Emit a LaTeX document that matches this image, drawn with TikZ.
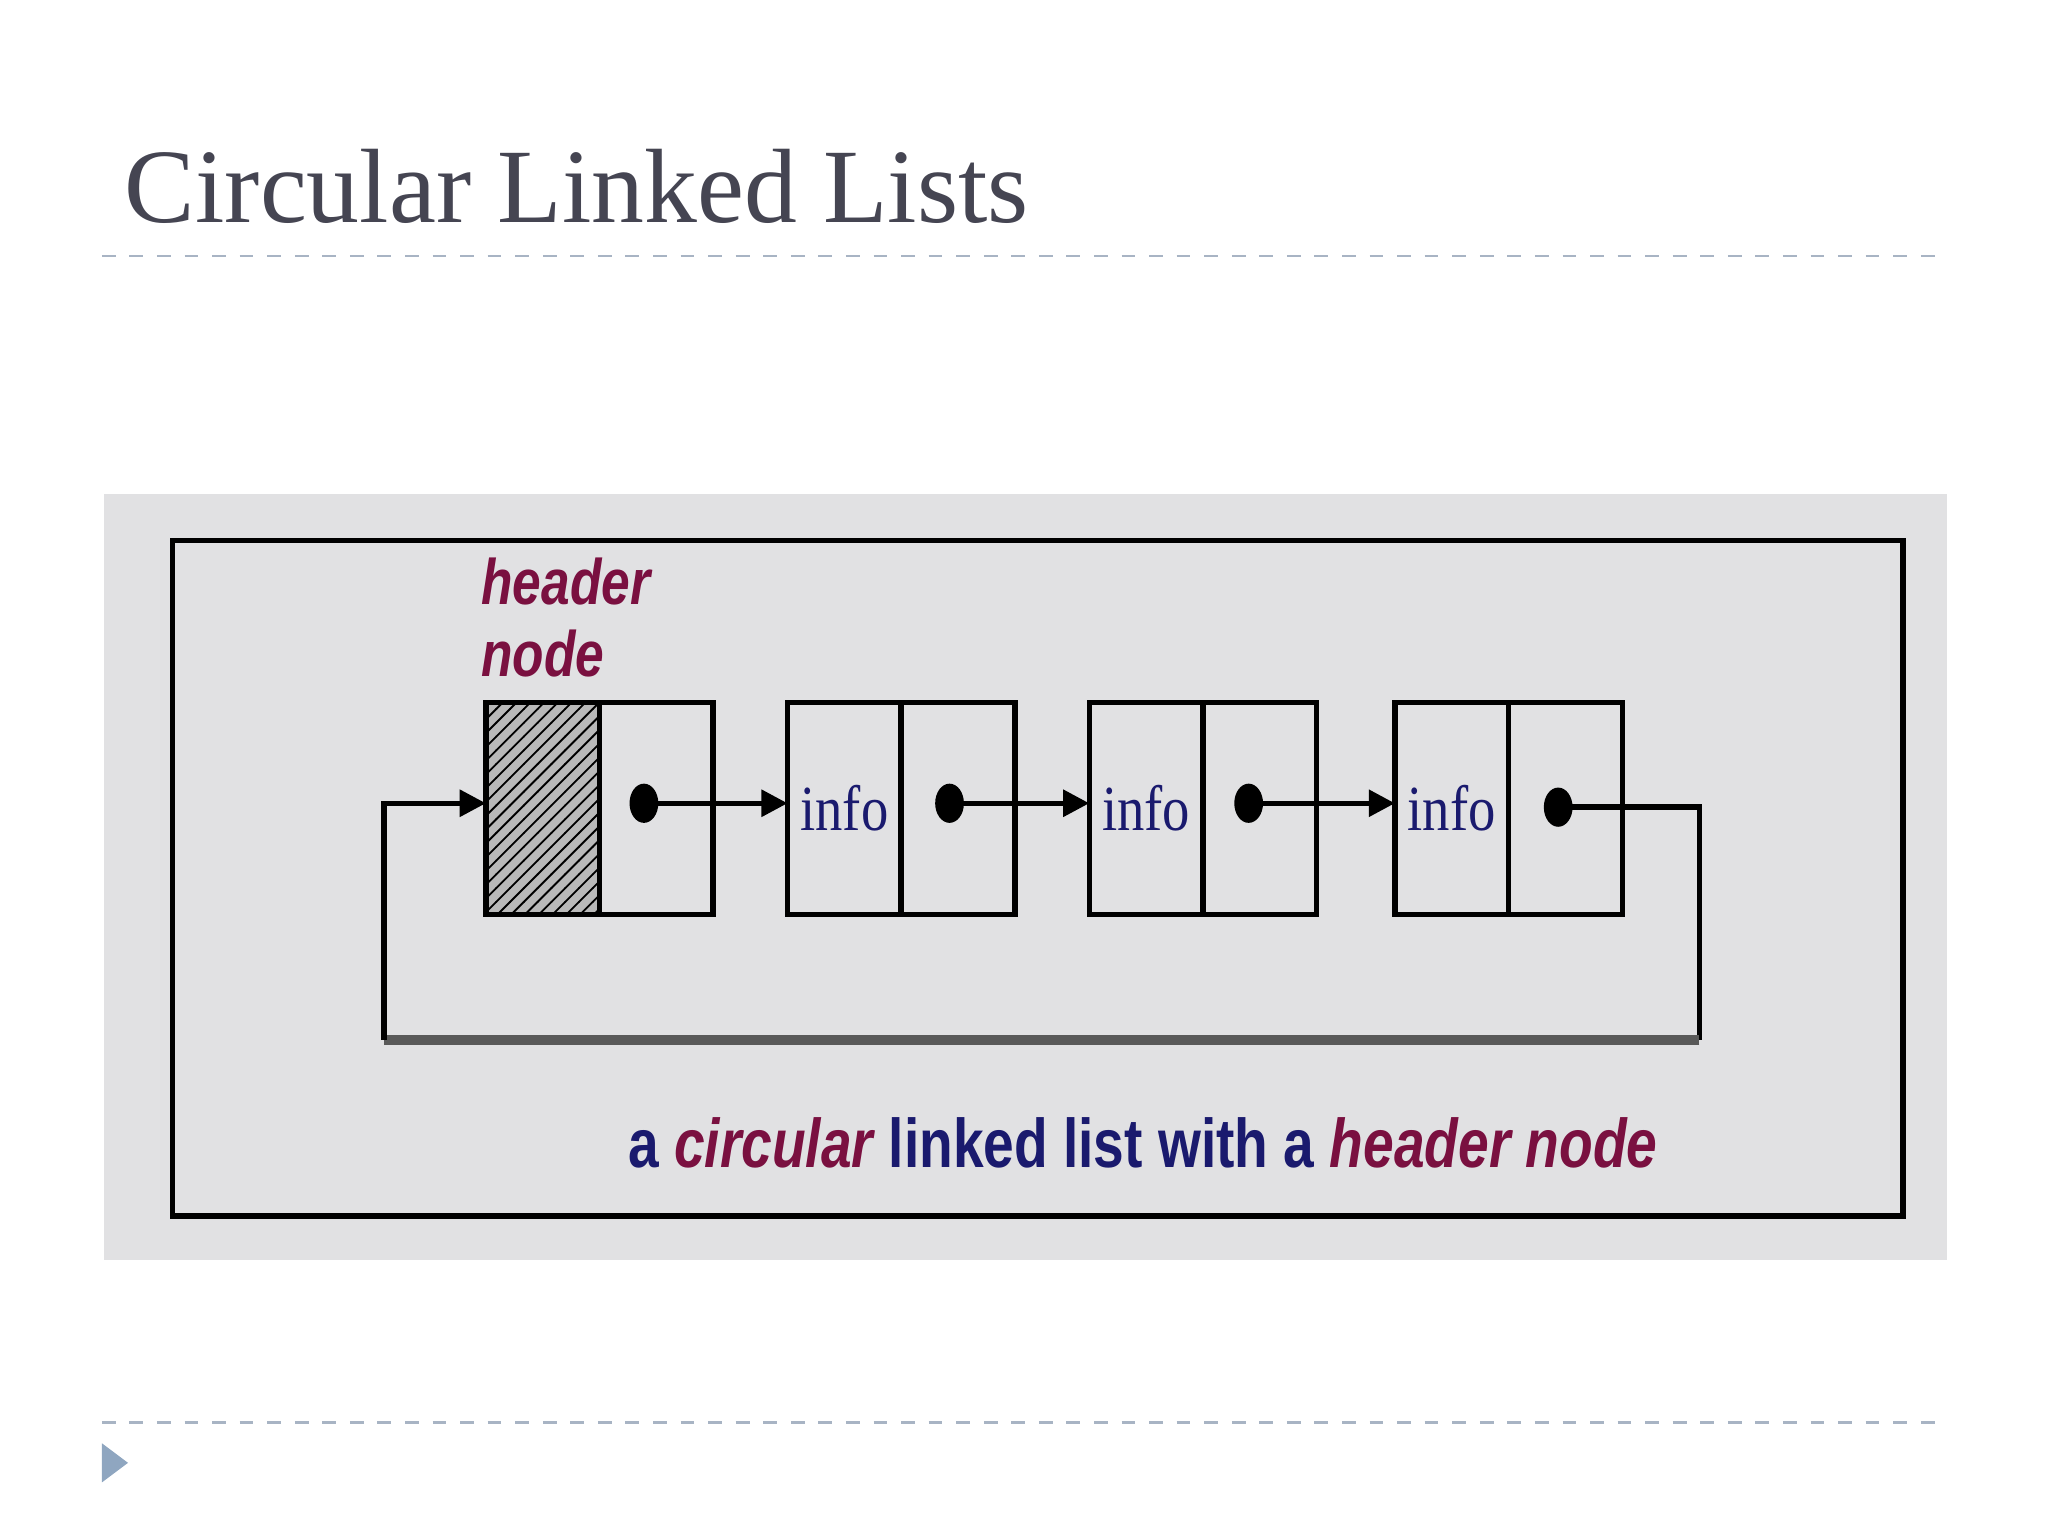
\documentclass[tikz,border=0pt]{standalone}
\usepackage{fontspec}
\setmainfont{Liberation Serif}
\newfontfamily\capsans{Liberation Sans}
\usetikzlibrary{patterns,arrows.meta,shapes.geometric}
\definecolor{slidegray}{HTML}{E1E1E3}
\definecolor{titlec}{HTML}{454552}
\definecolor{dashc}{HTML}{A8B4C4}
\definecolor{tric}{HTML}{8FA6C0}
\definecolor{hred}{HTML}{7A1040}
\definecolor{navy}{HTML}{1A1A6E}
\begin{document}
\begin{tikzpicture}[x=0.01cm,y=-0.01cm,
  cell/.style={draw,line width=1.2pt,minimum width=0.87cm,minimum height=1.62cm,inner sep=0pt,outer sep=0pt},
  dot/.style={fill,ellipse,minimum width=0.22cm,minimum height=0.3cm,inner sep=0pt},
  lnk/.style={line width=1.2pt,-{Triangle[length=0.2cm,width=0.2cm]}},
  info/.style={text=navy,font=\fontsize{14}{14}\selectfont,inner sep=0,xscale=0.85},
  hdr/.style={anchor=west,text=hred,font=\capsans\bfseries\itshape\fontsize{14}{14}\selectfont,inner sep=0,xscale=0.8}]
\useasboundingbox (0,0) rectangle (1568,1176);
\node[anchor=base west,text=titlec,font=\fontsize{23}{23}\selectfont,inner sep=0] (title) at (95,170) {Circular Linked Lists};
\draw[dashc,dashed,line width=0.6pt] (78,196) -- (1490,196);
\draw[dashc,dashed,line width=0.6pt] (78,1089) -- (1490,1089);
\fill[tric] (78,1105) -- (98,1120) -- (78,1135) -- cycle;
\fill[slidegray] (80,378) rectangle (1491,965);
\draw[line width=1.2pt] (132,414) rectangle (1457,931);
\node[hdr] (h1) at (368,445) {header};
\node[hdr] (h2) at (368,500) {node};
\node[cell,fill=gray!55,anchor=north west] (a1) at (372,538) {};
\fill[pattern=north east lines] (a1.south west) rectangle (a1.north east);
\node[cell,anchor=north west] (a2) at (459,538) {};
\node[cell,anchor=north west] (b1) at (603,538) {};
\node[cell,anchor=north west] (b2) at (690,538) {};
\node[cell,anchor=north west] (c1) at (834,538) {};
\node[cell,anchor=north west] (c2) at (921,538) {};
\node[cell,anchor=north west] (d1) at (1068,538) {};
\node[cell,anchor=north west] (d2) at (1155,538) {};
\node[info] at (b1) {info};
\node[info] at (c1) {info};
\node[info] at (d1) {info};
\node[dot] (pa) at (493,615) {};
\node[dot] (pb) at (727,615) {};
\node[dot] (pc) at (956,615) {};
\node[dot] (pd) at (1193,618) {};
\draw[lnk] (pa.center) -- (pa.center -| b1.west);
\draw[lnk] (pb.center) -- (pb.center -| c1.west);
\draw[lnk] (pc.center) -- (pc.center -| d1.west);
\coordinate (r) at (1301,618);
\coordinate (rb) at (1301,796);
\coordinate (lb) at (294,796);
\coordinate (lt) at (294,615);
\draw[line width=1.2pt] (pd.center) -- (r) -- (rb);
\draw[line width=2.2pt,gray!70!black] (rb) -- (lb);
\draw[lnk] (lb) -- (lt) -- (lt -| a1.west);
\node[font=\capsans\bfseries\fontsize{15}{15}\selectfont,inner sep=0,xscale=0.8,text=navy] (cap) at (875,875) {a \textcolor{hred}{\itshape circular} linked list with a \textcolor{hred}{\itshape header node}};
\end{tikzpicture}
\end{document}
